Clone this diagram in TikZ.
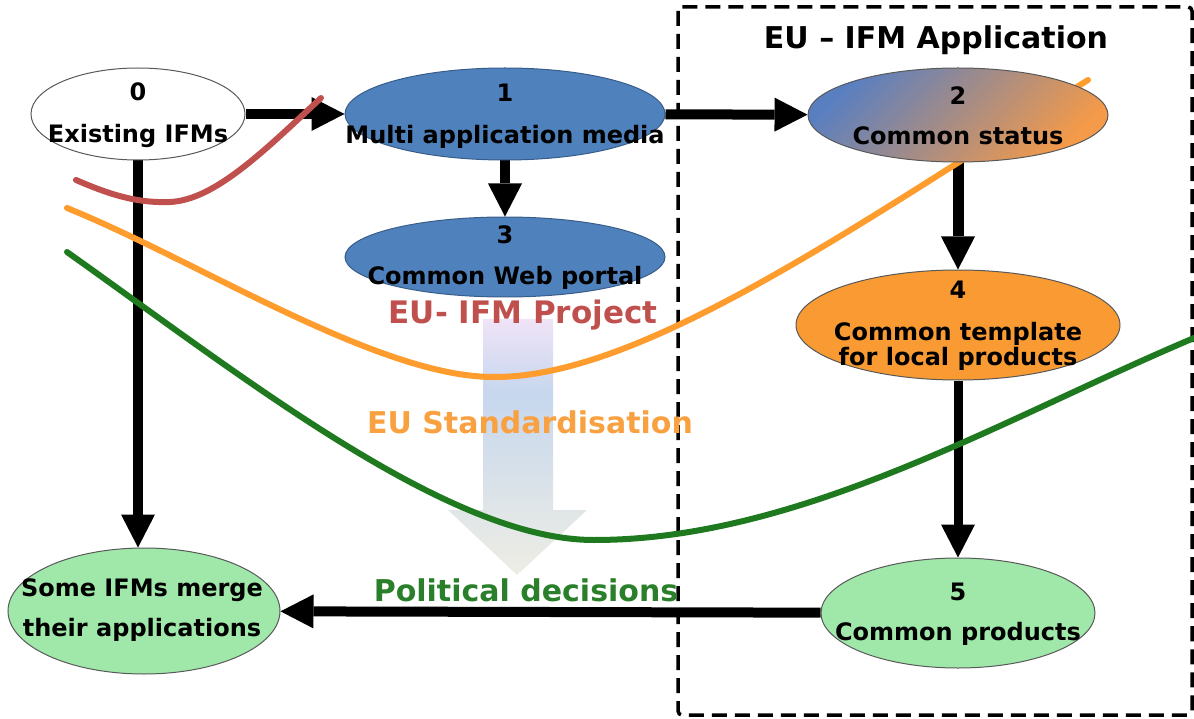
\documentclass[tikz,border=0pt]{standalone}
\usepackage{fontspec}
\setmainfont{DejaVu Sans}
\usetikzlibrary{shapes.geometric,arrows.meta}
\pgfdeclarelayer{bg}
\pgfsetlayers{bg,main}
\definecolor{nblue}{HTML}{4F81BD}
\definecolor{nblueb}{HTML}{385D8A}
\definecolor{norange}{HTML}{F99B32}
\definecolor{ngreen}{HTML}{A0E8AA}
\definecolor{cred}{HTML}{C0504D}
\definecolor{corange}{HTML}{FF9C2E}
\definecolor{cgreen}{HTML}{1F7A1F}
\definecolor{torange}{HTML}{F9A040}
\definecolor{tgreen}{HTML}{2A7F2A}
\definecolor{gblue}{HTML}{5A7FC0}
\definecolor{gorange}{HTML}{F59A48}
\definecolor{blav}{HTML}{EFE3F7}
\definecolor{bblue}{HTML}{C6D7EE}
\definecolor{bbeige}{HTML}{EEEDE4}
\begin{document}
\begin{tikzpicture}[x=1pt,y=-1pt,
  ell/.style={ellipse, draw=black!65, line width=1pt, inner sep=0pt},
  txt/.style={font=\fontsize{24}{25}\selectfont\bfseries, align=center, inner sep=0pt},
  lbl/.style={font=\fontsize{30}{32}\selectfont\bfseries, inner sep=0pt},
  arr/.style={line width=10pt, -{Triangle[length=33pt,width=34pt,line width=0pt]}},
  curve/.style={line width=6pt, line cap=round}
]
\useasboundingbox (0,0) rectangle (1194,719);

% nodes
\node[ell, fill=white, minimum width=214pt, minimum height=92pt] (n0) at (138,114) {};
\node[ell, fill=nblue, draw=nblueb, minimum width=320pt, minimum height=92pt] (n1) at (505,114) {};
\node[ell, fill=nblue, draw=nblueb, minimum width=320pt, minimum height=80pt] (n3) at (505,257) {};
\node[ell, top color=gblue, bottom color=gorange, shading angle=45, minimum width=300pt, minimum height=94pt] (n2) at (958,115) {};
\node[ell, fill=norange, minimum width=324pt, minimum height=110pt] (n4) at (958,325) {};
\node[ell, fill=ngreen, minimum width=274pt, minimum height=110pt] (n5) at (958,613) {};
\node[ell, fill=ngreen, minimum width=272pt, minimum height=126pt] (nm) at (144,611) {};

\node[txt] (t0) at (138,115) {0\\[17pt]Existing IFMs};
\node[txt] (t1) at (505,116) {1\\[17pt]Multi application media};
\node[txt] (t3) at (505,258) {3\\[16pt]Common Web portal};
\node[txt] (t2) at (958,116) {2\\[15pt]Common status};
\node[txt] (t4) at (958,326) {4\\[17pt]Common template\\for local products};
\node[txt] (t5) at (958,614) {5\\[15pt]Common products};
\node[txt] (tm) at (142,610) {Some IFMs merge\\[15pt]their applications};

\node[lbl, text=black, font=\fontsize{30}{32}\selectfont\bfseries] (title) at (936,40) {EU – IFM Application};
\node[lbl, text=cred, font=\fontsize{31}{32}\selectfont\bfseries] (lp) at (523,315) {EU- IFM Project};
\node[lbl, text=torange] (ls) at (530,422) {EU Standardisation};
\node[lbl, text=tgreen] (lpd) at (526,590) {Political decisions};

\begin{pgfonlayer}{bg}
  % big fading arrow
  \shade[top color=blav, bottom color=bblue] (483,320) rectangle (553,393);
  \shade[top color=bblue, middle color=bbeige, bottom color=bbeige]
    (483,392) -- (553,392) -- (553,510) -- (587,510) -- (517,575) -- (448,510) -- (483,510) -- cycle;
  % dashed application box
  \draw[line width=3.5pt, dash pattern=on 15pt off 8pt, rounded corners=4pt] (678,7) rectangle (1192,715);
  % arrows
  \draw[arr] (n0) -- (n1);
  \draw[arr] (n1) -- (n2);
  \draw[arr] (n1) -- (n3);
  \draw[arr, line width=11pt] (n2) -- (n4);
  \draw[arr, line width=9pt] (n4) -- (n5);
  \draw[arr] (n0.south) -- (n0.south |- nm.north);
  \draw[arr] (n5) -- (nm);
  % curves
  \draw[curve, cred] (76,180) .. controls (115,197) and (140,203) .. (170,202) .. controls (215,200) and (265,150) .. (321,98);
  \draw[curve, corange] (67,208) .. controls (200,262) and (380,378) .. (495,377) .. controls (640,377) and (850,230) .. (1088,80);
  \draw[curve, cgreen] (67,252) .. controls (250,382) and (450,540) .. (594,540) .. controls (800,540) and (1000,420) .. (1194,338);
\end{pgfonlayer}
\end{tikzpicture}
\end{document}
